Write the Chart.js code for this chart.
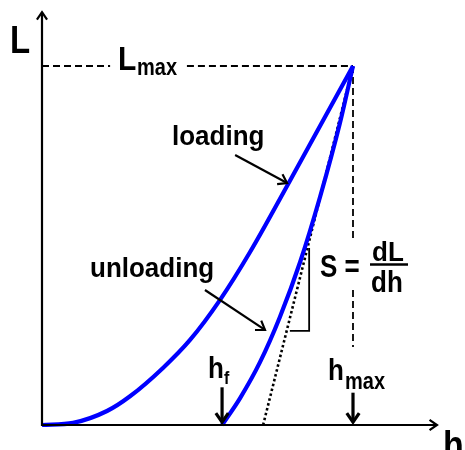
<!DOCTYPE html>
<html>
<head>
<meta charset="utf-8">
<script src="https://cdn.jsdelivr.net/npm/chart.js@4/dist/chart.umd.min.js"></script>
<style>
  html, body { margin: 0; padding: 0; background: #fff; }
  #wrap { width: 465px; height: 450px; position: relative; }
</style>
</head>
<body>
<div id="wrap"><canvas id="chart"></canvas></div>
<script>
// ── LOAD–DISPLACEMENT CURVE (nanoindentation) ──
// h in units of h_max, L in units of L_max

// loading branch
const loadH = [0, 0.10, 0.209, 0.283, 0.389, 0.476, 0.572, 0.669, 0.788, 0.894, 1.00];
const loadL = [0, 0.006, 0.039, 0.080, 0.159, 0.237, 0.348, 0.482, 0.666, 0.833, 1.00];

// unloading branch (from h_f up to the peak)
const unloadH = [0.579, 0.637, 0.701, 0.765, 0.830, 0.894, 0.958, 1.00];
const unloadL = [0, 0.075, 0.175, 0.301, 0.454, 0.635, 0.841, 1.00];

// tangent to the unloading curve at the peak (dotted)
const tangentH = [0.711, 1.00];
const tangentL = [0, 1.00];

// reference values
const hMax = 1.0;
const lMax = 1.0;
const hF = 0.579;

const FONT = "'Liberation Sans', Arial, sans-serif";
const BLUE = '#0000ff';

const pts = (xs, ys) => xs.map((x, i) => ({ x: x, y: ys[i] }));

// dashed guide lines (null breaks the line where the labels sit)
const lmaxGuide = [
  { x: 0, y: lMax }, { x: 0.219, y: lMax }, { x: 0.3, y: null },
  { x: 0.466, y: lMax }, { x: hMax, y: lMax }
];
const hmaxGuide = [
  { x: hMax, y: lMax }, { x: hMax, y: 0.51 }, { x: hMax, y: null },
  { x: hMax, y: 0.376 }, { x: hMax, y: 0.217 }
];
const slopeMark = [
  { x: 0.859, y: 0.493 }, { x: 0.859, y: 0.262 }, { x: 0.797, y: 0.262 }
];

// ── OVERLAY: axes, arrows, labels ──
const overlay = {
  id: 'overlay',
  afterDatasetsDraw(chart) {
    const ctx = chart.ctx;
    const X = v => chart.scales.x.getPixelForValue(v);
    const Y = v => chart.scales.y.getPixelForValue(v);

    const line = (x1, y1, x2, y2, w) => {
      ctx.beginPath();
      ctx.lineWidth = w;
      ctx.moveTo(x1, y1);
      ctx.lineTo(x2, y2);
      ctx.stroke();
    };
    const arrow = (x1, y1, x2, y2, w, head) => {
      line(x1, y1, x2, y2, w);
      const a = Math.atan2(y2 - y1, x2 - x1);
      ctx.beginPath();
      ctx.lineWidth = w;
      ctx.lineJoin = 'miter';
      ctx.moveTo(x2 - head * Math.cos(a - 0.6), y2 - head * Math.sin(a - 0.6));
      ctx.lineTo(x2, y2);
      ctx.lineTo(x2 - head * Math.cos(a + 0.6), y2 - head * Math.sin(a + 0.6));
      ctx.stroke();
    };
    const text = (s, x, y, size, stretch) => {
      ctx.save();
      ctx.translate(x, y);
      ctx.scale(1, stretch);
      ctx.font = 'bold ' + size + 'px ' + FONT;
      ctx.textBaseline = 'alphabetic';
      ctx.fillText(s, 0, 0);
      ctx.restore();
    };

    ctx.save();
    ctx.strokeStyle = '#000';
    ctx.fillStyle = '#000';
    ctx.lineCap = 'butt';

    // axes
    const x0 = X(0), y0 = Y(0);
    arrow(x0, y0 + 1, x0, Y(1.15), 2.2, 9);
    arrow(x0 - 1, y0, X(1.27), y0, 2.2, 9);

    // pointer arrows
    arrow(X(0.621), Y(0.752), X(0.788), Y(0.674), 2.2, 10);
    arrow(X(0.524), Y(0.376), X(0.717), Y(0.265), 2.2, 10);
    arrow(X(hF), Y(0.105), X(hF), Y(0.008), 3.2, 11);
    arrow(X(hMax), Y(0.09), X(hMax), Y(0.008), 3.2, 11);

    // labels
    text('L', 10, 53, 33, 1.2);
    text('L', 118, 70, 30, 1.08);
    text('max', 137, 75, 20, 1.15);
    text('loading', 172, 145, 26, 1.08);
    text('unloading', 90, 277, 26, 1.08);
    text('S =', 320, 277, 26, 1.18);
    text('dL', 372, 261, 26, 1.05);
    line(370, 264.5, 408, 264.5, 2.5);
    text('dh', 371, 292, 26, 1.1);
    text('h', 208, 378, 26, 1.13);
    text('f', 224, 384, 16, 1.15);
    text('h', 328, 380, 26, 1.13);
    text('max', 345, 389, 20, 1.15);
    text('h', 443, 458, 34, 1.15);
    ctx.restore();
  }
};

new Chart(document.getElementById('chart'), {
  type: 'scatter',
  data: {
    datasets: [
      { label: 'loading', data: pts(loadH, loadL), showLine: true, borderColor: BLUE,
        borderWidth: 4.2, pointRadius: 0, cubicInterpolationMode: 'monotone', clip: false },
      { label: 'unloading', data: pts(unloadH, unloadL), showLine: true, borderColor: BLUE,
        borderWidth: 4.2, pointRadius: 0, cubicInterpolationMode: 'monotone', clip: false },
      { label: 'tangent', data: pts(tangentH, tangentL), showLine: true, borderColor: '#000',
        borderWidth: 2.6, borderDash: [2.5, 2.5], pointRadius: 0, clip: false },
      { label: 'Lmax', data: lmaxGuide, showLine: true, borderColor: '#000', spanGaps: false,
        borderWidth: 1.8, borderDash: [7, 4], pointRadius: 0, clip: false },
      { label: 'hmax', data: hmaxGuide, showLine: true, borderColor: '#000', spanGaps: false,
        borderWidth: 1.8, borderDash: [7, 4], pointRadius: 0, clip: false },
      { label: 'slope', data: slopeMark, showLine: true, borderColor: '#000',
        borderWidth: 1.8, pointRadius: 0, clip: false }
    ]
  },
  options: {
    animation: false,
    responsive: true,
    maintainAspectRatio: false,
    layout: { padding: { left: 42, right: 18.7, top: 12.15, bottom: 25 } },
    plugins: { legend: { display: false }, tooltip: { enabled: false } },
    scales: {
      x: { type: 'linear', min: 0, max: 1.3, display: false },
      y: { type: 'linear', min: 0, max: 1.15, display: false }
    }
  },
  plugins: [overlay]
});
</script>
</body>
</html>
